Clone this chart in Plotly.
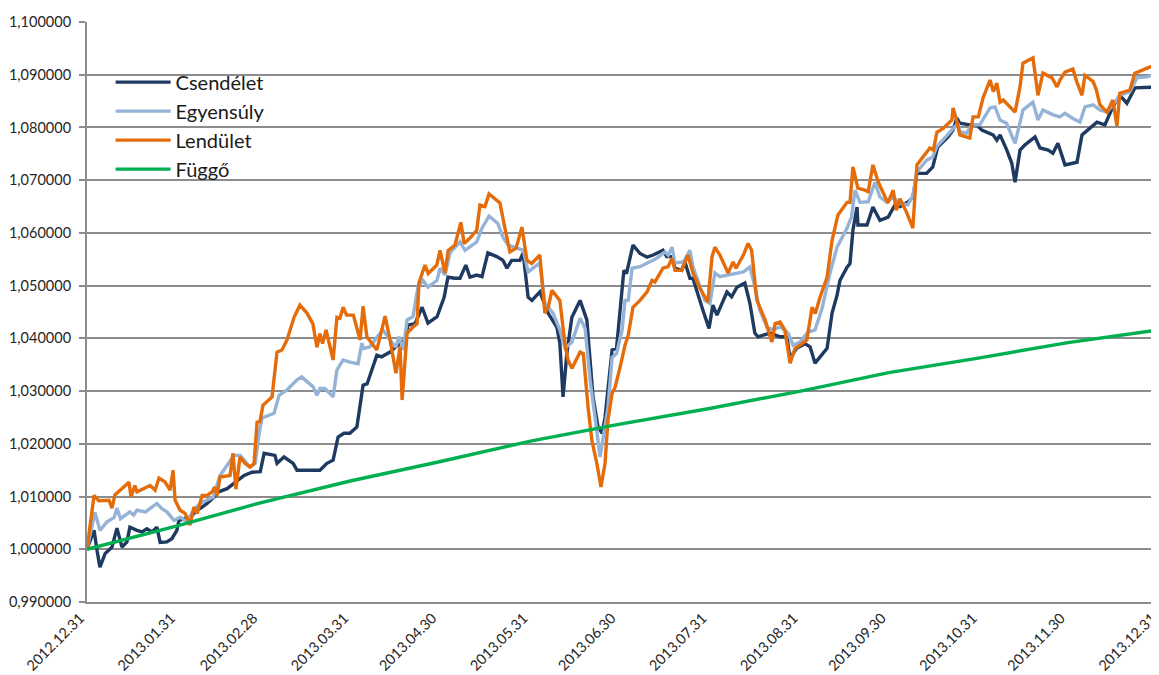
import pandas as pd
import plotly.graph_objects as go

START = "2012-12-31"

# ---- data (x = days after 2012.12.31) ----
csend_days = [0,2.4,3.4,4.4,6.2,8.5,10.2,11.9,13.6,14.6,17,18.7,20.4,22.1,23.8,24.9,27.2,28.9,30.6,31.3,35.1,37.5,39.2,40.9,43.2,44.8,47.7,50,53.5,56.2,59,60.3,64,64.7,67.1,70.2,71.5,74.9,79.3,81.7,83.8,85.5,87.5,89.5,91.9,94,95.4,98.7,100.3,103.2,105.2,108.3,109.3,111.7,114.1,116.1,119.2,121.6,122.9,125.3,127,129,130.4,132.7,134.5,136.5,139.5,141.6,143,144.6,147.4,148.5,150.2,151.5,154.2,157,160,161,162.1,163.4,165.1,167.9,170.2,172.3,174,175.4,176.4,178.8,180.3,182.8,183.7,185.9,188.3,190.7,192.8,196.1,197.4,199.2,200.2,202.5,203.6,205.3,206.3,209.7,211.8,213.1,214.5,217.9,219.5,221.3,224,225.7,227.4,228.5,232.6,236,238.3,239.4,241.6,244.5,246.2,247.9,249.6,252,253.7,255.4,256.4,258.8,259.8,260.8,262.2,262.5,265.6,267.6,270,272.8,275.1,276.8,279.7,281.2,282.6,285.9,288,289.7,293.2,294.9,296.2,297.2,300.6,302.9,304.7,308.5,309.8,310.9,313.2,314.9,316,317.7,319.4,322.8,324.5,327.3,328.9,330.6,333,337.1,338.8,341.5,343.9,346.6,349.3,351.7,354.1,356.8,365]
csend_vals = [1.000,1.0036,0.9998,0.9966,0.9992,1.0004,1.004,1.0004,1.0014,1.0042,1.0036,1.0033,1.0039,1.0033,1.0042,1.0013,1.0014,1.002,1.0036,1.0055,1.0061,1.0074,1.008,1.0087,1.0099,1.0109,1.0115,1.0125,1.014,1.0146,1.0147,1.0182,1.0178,1.0163,1.0175,1.0163,1.015,1.015,1.015,1.0163,1.0169,1.0213,1.022,1.022,1.0232,1.0311,1.0314,1.0368,1.0365,1.0374,1.0384,1.0397,1.0425,1.0428,1.0459,1.0429,1.0441,1.0478,1.0516,1.0514,1.0514,1.0539,1.0516,1.052,1.0517,1.0562,1.0555,1.0548,1.0533,1.0548,1.0548,1.0562,1.0478,1.0472,1.0488,1.0448,1.0421,1.0391,1.0289,1.0372,1.044,1.0472,1.0435,1.0289,1.0232,1.022,1.025,1.0378,1.0381,1.0529,1.0523,1.0577,1.0561,1.0554,1.0558,1.0567,1.0555,1.0555,1.0533,1.0529,1.0545,1.0514,1.0514,1.0454,1.0419,1.0463,1.0444,1.0488,1.0479,1.0497,1.0505,1.0467,1.041,1.0403,1.041,1.0403,1.0403,1.0362,1.0381,1.039,1.0384,1.0353,1.0365,1.0381,1.0448,1.0482,1.051,1.0535,1.0542,1.0605,1.0649,1.0615,1.0615,1.0649,1.0624,1.063,1.0653,1.065,1.0659,1.0668,1.0713,1.0713,1.0725,1.0763,1.0782,1.0795,1.0818,1.0808,1.0805,1.0805,1.0795,1.0786,1.0776,1.0786,1.0757,1.0732,1.0696,1.0757,1.0767,1.0782,1.0761,1.0757,1.0751,1.077,1.0729,1.0734,1.0786,1.0799,1.081,1.0805,1.0839,1.0861,1.0846,1.0875,1.0877]

egy_days = [0,2.7,4.4,6.8,9.2,10.2,11.4,14.6,15.9,17,19.9,23.8,25.5,27.2,29.6,31.8,34,36.3,38.5,43,45.3,50,52.2,55.5,57.3,58.6,59.6,63.7,65.4,68.1,71.4,73.1,77,78.3,79.3,81,83.8,85.1,87.2,89.5,92.3,93.6,94.1,96.4,98.7,100.8,103.2,105.2,106.2,107.7,109,111,112.7,114.4,116.1,119.2,120.2,121.9,123.6,127,128.7,132.7,134.5,136.9,139.9,141.6,143.4,145.2,148.6,150.2,154.2,155.9,158.7,161,162.8,165.1,167.9,169.6,171.3,173,174.7,175.8,177.4,178.8,180.3,182.2,183.2,184.3,185.6,188.3,190.7,194,196.8,197.9,199.2,200.2,203.1,205.3,206.3,208.7,210.4,212.1,213.8,215.5,218.3,220,223.5,225.7,226.9,229.1,231.5,233.7,236,238.7,240.4,242.8,245.5,247.9,250.3,253,255.4,258.8,260.3,261.5,263.2,266,268.3,270,272.4,274.6,276.8,279.5,281.3,282.5,285.9,288,289.3,294.5,296.6,297.2,299.5,301.3,304,307.5,309.2,310.9,313.1,316,318.7,322.1,323.8,325.5,329,331.3,333,335.7,338.1,339.8,342.6,344.9,347.3,349.4,351.7,355.1,357.5,360.8,365]
egy_vals = [1.000,1.007,1.0036,1.0052,1.006,1.0078,1.0058,1.0071,1.0065,1.0074,1.0071,1.0087,1.0077,1.0071,1.0055,1.0061,1.0052,1.0074,1.0087,1.0099,1.014,1.0178,1.0178,1.0156,1.0163,1.022,1.0249,1.0258,1.0292,1.0302,1.0321,1.0327,1.0308,1.0292,1.0305,1.0305,1.0289,1.034,1.0359,1.0355,1.0352,1.0391,1.0381,1.0384,1.0402,1.0416,1.0397,1.0383,1.0403,1.0378,1.0435,1.0441,1.0497,1.051,1.0497,1.051,1.0533,1.052,1.0562,1.0583,1.0567,1.0583,1.0609,1.0632,1.0618,1.0592,1.0577,1.0574,1.0567,1.0526,1.0543,1.0467,1.0448,1.0416,1.0381,1.0393,1.0438,1.0419,1.0321,1.025,1.0175,1.0213,1.027,1.0364,1.0371,1.0416,1.0472,1.0472,1.0533,1.0536,1.0543,1.0552,1.0564,1.0558,1.0573,1.0543,1.0545,1.0567,1.0536,1.0497,1.0472,1.0466,1.0524,1.0517,1.052,1.0523,1.0526,1.0535,1.051,1.0454,1.0421,1.0416,1.0422,1.041,1.0387,1.0393,1.0412,1.0416,1.0457,1.0524,1.0573,1.0609,1.063,1.0681,1.0658,1.0659,1.0696,1.0668,1.0658,1.0668,1.0656,1.0653,1.0672,1.0715,1.0738,1.0744,1.0763,1.0795,1.0808,1.0792,1.0789,1.0805,1.0805,1.0837,1.0839,1.0814,1.0808,1.077,1.0833,1.0848,1.0814,1.0833,1.0824,1.082,1.0827,1.0817,1.081,1.0839,1.0843,1.0833,1.0829,1.0843,1.0861,1.0868,1.0894,1.0896,1.0903]

lend_days = [0,2.4,4,7.5,8.5,9.5,14.3,15,16.3,17,21.5,23.2,24.5,26.5,28.3,29.3,30,31.7,33.4,35.1,36.4,37.5,39.2,40.9,42.6,43.5,44.3,45.3,48.7,49.7,50.7,52.1,53.8,55.5,56.9,57.9,58.9,59.9,63,64.7,66.4,68.1,70.5,72.5,74.9,76.9,78.3,79.3,80.2,81.4,83.8,85.1,86.1,87.2,88.4,90.7,93,94,95.3,98.7,101.5,103.2,105.2,106.6,107.3,109,111.1,112.4,113,115.1,116.2,119.1,120.2,121.9,123,125.3,127.3,128.4,130.4,132.7,133.8,135.5,136.9,140.6,142.3,144,146.1,148.1,149.8,151.4,154.2,155.9,157.1,158.3,161,162.8,163.8,165.1,167.9,169,170.6,171.9,173.6,175,176.4,177.4,178.8,179.8,181.5,183.2,184.3,185.9,188.3,190.7,192.4,193.4,196.1,197.9,199.2,200.2,202.5,204.6,206.4,208.7,211.4,212.8,213.8,215.5,218.3,220,221,223.5,225.1,226.3,228.1,230.9,233.2,234.3,236,237.6,239.4,241.1,242.8,245.1,246.9,248,249.6,252,253.7,255.7,258.8,259.8,260.8,262.5,264.9,266,267.6,269.4,270.7,272.7,274.5,275.6,276.8,279,281.2,282.6,287,288.2,289.4,291.5,294.5,294.9,296.1,297.2,300.6,301.7,303.5,305.1,307.5,308.6,309.8,310.9,312,316,317.7,318.7,322.1,323.8,325.5,328.6,330.3,331.3,333,335.7,337,338.8,339.8,342.6,343.7,344.9,347.3,349.3,350.7,351.7,355.1,356.8,360.8,363.1,365]
lend_vals = [1.000,1.0102,1.0092,1.0093,1.0078,1.0103,1.0127,1.0099,1.0121,1.0109,1.0121,1.0112,1.0135,1.0128,1.0112,1.015,1.0093,1.0074,1.0068,1.0046,1.008,1.0068,1.0102,1.0102,1.0109,1.0118,1.0102,1.0137,1.014,1.0182,1.0114,1.0175,1.0163,1.0156,1.0163,1.0241,1.0242,1.0273,1.0289,1.0374,1.0378,1.0397,1.044,1.0463,1.0448,1.0428,1.0383,1.0409,1.039,1.0416,1.0359,1.044,1.0438,1.0459,1.0444,1.0444,1.0397,1.0461,1.0403,1.0378,1.0442,1.0397,1.0334,1.0384,1.0283,1.041,1.0422,1.0428,1.0505,1.0539,1.0523,1.0539,1.0567,1.0524,1.0567,1.0577,1.062,1.058,1.059,1.0605,1.0653,1.065,1.0674,1.0657,1.0609,1.0564,1.0571,1.0611,1.0548,1.0542,1.0558,1.0448,1.046,1.0491,1.0472,1.0387,1.0359,1.0343,1.0374,1.0371,1.027,1.0207,1.0163,1.0118,1.0163,1.0245,1.0296,1.0307,1.0345,1.0387,1.0406,1.0459,1.0472,1.0488,1.051,1.0507,1.0533,1.0536,1.0552,1.0529,1.0529,1.0558,1.0523,1.0495,1.0469,1.0554,1.0573,1.0558,1.0524,1.0545,1.0533,1.0558,1.058,1.0567,1.0472,1.0435,1.0393,1.0428,1.0431,1.0416,1.0353,1.0381,1.0387,1.0397,1.0459,1.0447,1.0478,1.0516,1.0586,1.0634,1.0658,1.0658,1.0725,1.0685,1.0681,1.0678,1.0729,1.0697,1.0681,1.0657,1.0681,1.0643,1.0665,1.064,1.0609,1.0729,1.0761,1.0757,1.0791,1.0798,1.0814,1.0837,1.0814,1.0786,1.078,1.082,1.082,1.0856,1.089,1.0868,1.0884,1.0848,1.0852,1.0829,1.0877,1.0922,1.0932,1.0861,1.0903,1.0894,1.0877,1.089,1.0905,1.0911,1.0887,1.0861,1.0899,1.0887,1.0871,1.0843,1.0829,1.0852,1.0803,1.0865,1.0871,1.0903,1.0912,1.0917,1.0924]

fuggo_days = [0,31,59,90,120,151,181,212,243,273,304,334,365]
fuggo_vals = [1.000,1.0045,1.0088,1.0130,1.0166,1.0205,1.0237,1.0267,1.0300,1.0335,1.0363,1.0392,1.0416]

series_names = ["Csendélet", "Egyensúly", "Lendület", "Függő"]
series_colors = ["#1F3A60", "#95B3D7", "#E46C0A", "#00B050"]

x_tick_dates = ["2012-12-31","2013-01-31","2013-02-28","2013-03-31","2013-04-30","2013-05-31",
                "2013-06-30","2013-07-31","2013-08-31","2013-09-30","2013-10-31","2013-11-30","2013-12-31"]
x_tick_text = ["2012.12.31","2013.01.31","2013.02.28","2013.03.31","2013.04.30","2013.05.31",
               "2013.06.30","2013.07.31","2013.08.31","2013.09.30","2013.10.31","2013.11.30","2013.12.31"]
y_tick_vals = [0.99,1.00,1.01,1.02,1.03,1.04,1.05,1.06,1.07,1.08,1.09,1.10]
y_tick_text = ["0,990000","1,000000","1,010000","1,020000","1,030000","1,040000","1,050000",
               "1,060000","1,070000","1,080000","1,090000","1,100000"]


def to_dates(days):
    return pd.Timestamp(START) + pd.to_timedelta(days, unit="D")


fig = go.Figure()
all_days = [csend_days, egy_days, lend_days, fuggo_days]
all_vals = [csend_vals, egy_vals, lend_vals, fuggo_vals]
for name, color, d, v in zip(series_names, series_colors, all_days, all_vals):
    fig.add_trace(go.Scatter(x=to_dates(d), y=v, mode="lines", name=name,
                             line=dict(color=color, width=3.4)))

FONT = "Lato, 'Open Sans', sans-serif"
# page body has an 8px margin, so the figure is sized to fit the 1159x675 window
fig.update_layout(
    width=1151, height=667,
    margin=dict(l=79, r=0, t=14, b=73),
    plot_bgcolor="white", paper_bgcolor="white",
    font=dict(family=FONT, color="#262626", size=14.5),
    showlegend=True,
    legend=dict(x=0.022, y=0.93, xanchor="left", yanchor="top",
                bgcolor="rgba(0,0,0,0)", font=dict(size=20, color="#1a1a1a"),
                itemwidth=55, tracegroupgap=0),
    xaxis=dict(range=["2012-12-31", "2013-12-31 00:30"], automargin=False,
               tickmode="array", tickvals=x_tick_dates, ticktext=x_tick_text,
               tickangle=-45, showgrid=False, showline=True, linecolor="#8c8c8c",
               linewidth=2, ticks="", ticklabeloverflow="allow", ticklabelshift=-7,
               tickfont=dict(size=14.5, color="#262626"), zeroline=False),
    yaxis=dict(range=[0.99, 1.10], automargin=False, tickmode="array",
               tickvals=y_tick_vals, ticktext=y_tick_text,
               showgrid=True, gridcolor="#8c8c8c", gridwidth=2, showline=True,
               linecolor="#8c8c8c", linewidth=2, ticks="outside", ticklen=6,
               tickcolor="#8c8c8c", tickwidth=2, ticklabelstandoff=5,
               tickfont=dict(size=14.5, color="#262626"), zeroline=False),
)

fig.write_html("out.html")
